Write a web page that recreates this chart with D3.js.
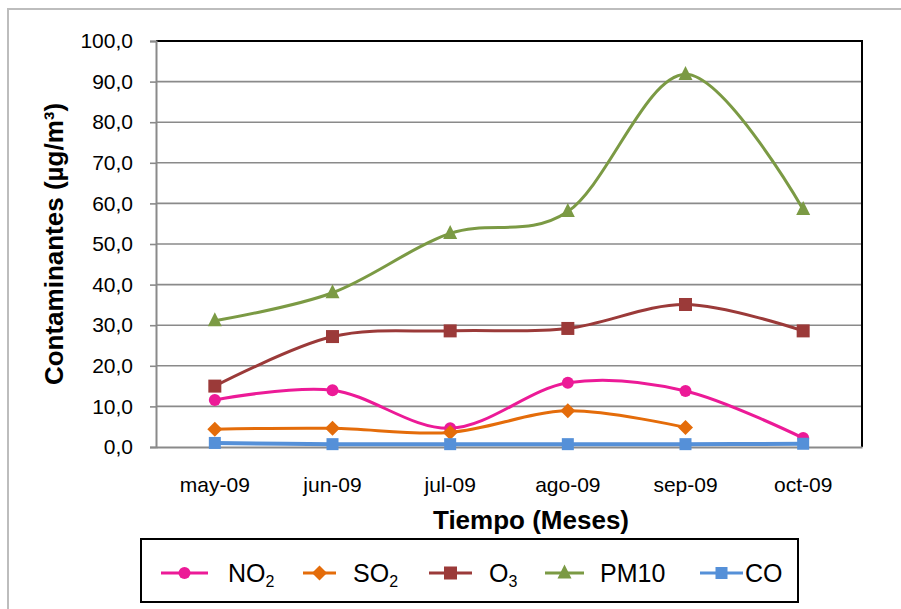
<!DOCTYPE html>
<html>
<head>
<meta charset="utf-8">
<script src="https://cdn.jsdelivr.net/npm/d3@7/dist/d3.min.js"></script>
<style>
  html, body { margin: 0; padding: 0; background: #fff; }
  svg { display: block; font-family: "Liberation Sans", Arial, sans-serif; }
</style>
</head>
<body>
<svg id="chart" width="901" height="609"></svg>
<script>
// Monthly pollutant concentrations (µg/m³)
const months = ["may-09", "jun-09", "jul-09", "ago-09", "sep-09", "oct-09"];
const no2  = [11.6, 14.0, 4.6, 15.8, 13.8, 2.2];
const so2  = [4.4, 4.6, 3.6, 8.9, 4.8, null];
const o3   = [15.0, 27.2, 28.6, 29.2, 35.1, 28.6];
const pm10 = [31.1, 38.0, 52.6, 58.0, 91.8, 58.5];
const co   = [1.0, 0.7, 0.7, 0.7, 0.7, 0.8];
const yTicks = [0, 10, 20, 30, 40, 50, 60, 70, 80, 90, 100];

const series = [
  { key: "NO2",  base: "NO", sub: "2", values: no2,  color: "#EC1A97", marker: "circle" },
  { key: "SO2",  base: "SO", sub: "2", values: so2,  color: "#E46C0A", marker: "diamond" },
  { key: "O3",   base: "O",  sub: "3", values: o3,   color: "#9B3A39", marker: "square" },
  { key: "PM10", base: "PM10", sub: "", values: pm10, color: "#7B9A44", marker: "triangle" },
  { key: "CO",   base: "CO", sub: "",  values: co,   color: "#5590D8", marker: "squareSmall" }
];

const svg = d3.select("#chart");
const plot = { left: 156, right: 862, top: 41, bottom: 447 };

// Outer chart frame
svg.append("path")
  .attr("d", "M8,612 L8,9 L905,9")
  .attr("fill", "none").attr("stroke", "#bdbdbd").attr("stroke-width", 2);

const x = d3.scaleBand().domain(months).range([plot.left, plot.right]);
const y = d3.scaleLinear().domain([0, 100]).range([plot.bottom, plot.top]);
const fmt = v => d3.format(".1f")(v).replace(".", ",");

// Horizontal gridlines
svg.append("g").selectAll("line").data(yTicks.filter(t => t > 0 && t < 100)).join("line")
  .attr("x1", plot.left).attr("x2", plot.right)
  .attr("y1", d => y(d)).attr("y2", d => y(d))
  .attr("stroke", "#8a8a8a").attr("stroke-width", 1.6);

// Top and right plot border
svg.append("path")
  .attr("d", `M${plot.left},${plot.top} L${plot.right},${plot.top} L${plot.right},${plot.bottom}`)
  .attr("fill", "none").attr("stroke", "#000").attr("stroke-width", 2);

// Y axis
const yAxis = svg.append("g").attr("transform", `translate(${plot.left},0)`)
  .call(d3.axisLeft(y).tickValues(yTicks).tickSize(6).tickPadding(17).tickFormat(fmt));
yAxis.select(".domain").attr("stroke", "#8a8a8a").attr("stroke-width", 2);
yAxis.selectAll(".tick line").attr("stroke", "#8a8a8a").attr("stroke-width", 1.6);
yAxis.selectAll(".tick text").attr("font-size", 21).attr("fill", "#000")
  .attr("font-family", "Liberation Sans, Arial, sans-serif");

// X axis
const xAxis = svg.append("g").attr("transform", `translate(0,${plot.bottom})`)
  .call(d3.axisBottom(x).tickSize(0).tickPadding(30));
xAxis.select(".domain").attr("stroke", "#8a8a8a").attr("stroke-width", 2);
xAxis.selectAll(".tick text").attr("font-size", 21).attr("fill", "#000")
  .attr("font-family", "Liberation Sans, Arial, sans-serif");

// Axis titles
svg.append("text")
  .attr("transform", `translate(63,${(plot.top + plot.bottom) / 2}) rotate(-90)`)
  .attr("text-anchor", "middle").attr("font-size", 26).attr("font-weight", "bold")
  .text("Contaminantes (µg/m³)");
svg.append("text")
  .attr("x", 531).attr("y", 529)
  .attr("text-anchor", "middle").attr("font-size", 26).attr("font-weight", "bold")
  .text("Tiempo (Meses)");

const cx = (i) => x(months[i]) + x.bandwidth() / 2;

function drawMarker(g, type, color, px, py) {
  if (type === "circle") {
    g.append("circle").attr("cx", px).attr("cy", py).attr("r", 6).attr("fill", color);
  } else if (type === "diamond") {
    const s = 7.5;
    g.append("path").attr("d", `M${px},${py - s} L${px + s},${py} L${px},${py + s} L${px - s},${py} Z`).attr("fill", color);
  } else if (type === "square") {
    const s = 13;
    g.append("rect").attr("x", px - s / 2).attr("y", py - s / 2).attr("width", s).attr("height", s).attr("fill", color);
  } else if (type === "squareSmall") {
    const s = 12;
    g.append("rect").attr("x", px - s / 2).attr("y", py - s / 2).attr("width", s).attr("height", s).attr("fill", color);
  } else if (type === "triangle") {
    const s = 14;
    g.append("path").attr("d", `M${px},${py - s * 0.6} L${px + s / 2},${py + s * 0.4} L${px - s / 2},${py + s * 0.4} Z`).attr("fill", color);
  }
}

// Smoothed series lines with markers
const line = d3.line()
  .defined(d => d.v != null)
  .x(d => cx(d.i)).y(d => y(d.v))
  .curve(d3.curveCatmullRom.alpha(0));

series.forEach(s => {
  const g = svg.append("g");
  const pts = s.values.map((v, i) => ({ v, i }));
  g.append("path").datum(pts.filter(d => d.v != null))
    .attr("d", line).attr("fill", "none")
    .attr("stroke", s.color).attr("stroke-width", s.key === "CO" ? 4 : 3);
  pts.filter(d => d.v != null).forEach(d => drawMarker(g, s.marker, s.color, cx(d.i), y(d.v)));
});

// Legend
const legend = svg.append("g");
legend.append("rect").attr("x", 141).attr("y", 539).attr("width", 657).attr("height", 63)
  .attr("fill", "#fff").attr("stroke", "#000").attr("stroke-width", 2);
const legendLayout = [
  { x0: 161, x1: 208, tx: 228 },
  { x0: 303, x1: 336, tx: 353 },
  { x0: 429, x1: 472, tx: 489 },
  { x0: 545, x1: 584, tx: 600 },
  { x0: 700, x1: 743, tx: 745 }
];
const ly = 573;
series.forEach((s, i) => {
  const L = legendLayout[i];
  legend.append("line").attr("x1", L.x0).attr("x2", L.x1).attr("y1", ly).attr("y2", ly)
    .attr("stroke", s.color).attr("stroke-width", 3);
  drawMarker(legend, s.marker, s.color, (L.x0 + L.x1) / 2, ly);
  const t = legend.append("text").attr("x", L.tx).attr("y", ly + 9).attr("font-size", 25).attr("fill", "#000");
  t.append("tspan").text(s.base);
  if (s.sub) t.append("tspan").attr("font-size", 16).attr("dy", 5).text(s.sub);
});
</script>
</body>
</html>
